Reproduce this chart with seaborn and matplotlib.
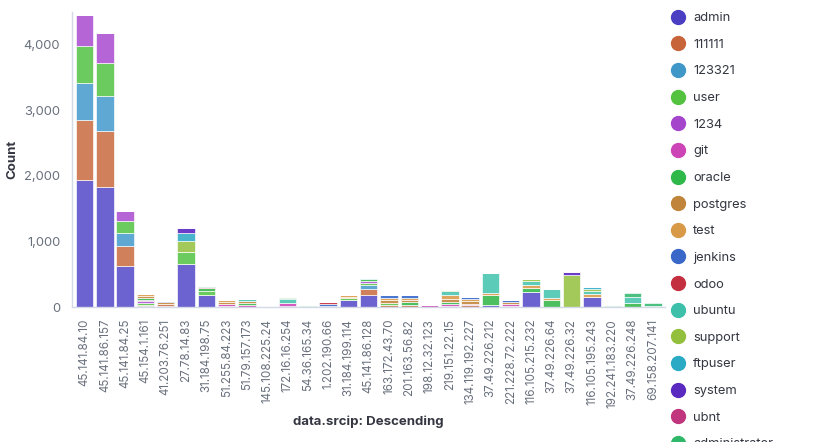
import matplotlib
matplotlib.use("Agg")
import matplotlib.pyplot as plt
import seaborn as sns
import numpy as np
import pandas as pd
from matplotlib.lines import Line2D
from matplotlib.ticker import FuncFormatter

# source IPs (x axis, descending by count)
srcips = ['45.141.84.10', '45.141.86.157', '45.141.84.25', '45.154.1.161', '41.203.76.251',
          '27.78.14.83', '31.184.198.75', '51.255.84.223', '51.79.157.173', '145.108.225.24',
          '172.16.16.254', '54.36.165.34', '1.202.190.66', '31.184.199.114', '45.141.86.128',
          '163.172.43.70', '201.163.56.82', '198.12.32.123', '219.151.22.15', '134.119.192.227',
          '37.49.226.212', '221.228.72.222', '116.105.215.232', '37.49.226.64', '37.49.226.32',
          '116.105.195.243', '192.241.183.220', '37.49.226.248', '69.158.207.141']

users = ['admin', '111111', '123321', 'user', '1234', 'git', 'oracle', 'postgres', 'test',
         'jenkins', 'odoo', 'ubuntu', 'support', 'ftpuser', 'system', 'ubnt', 'administrator']

bar_colors = ['#6c63d1', '#d0805a', '#5fa8d3', '#6ccb5f', '#b665d6', '#d35bc0', '#4cc060',
              '#c99250', '#dda55e', '#4a78d0', '#c94050', '#5ccbb8', '#a3c95a', '#48b5cc',
              '#6a3cc8', '#c84a8c', '#4cc080']
dot_colors = ['#4a3fc2', '#c8643a', '#3f97c8', '#52c23f', '#a545cc', '#cc44b6', '#2fb84a',
              '#c0853a', '#d99a48', '#3a68c8', '#c42f40', '#3cc0aa', '#93c03c', '#2aaac4',
              '#5a2ac0', '#c0357e', '#30b86a']

# counts per user, one value per source IP (same order as srcips)
admin         = [1940, 1830, 625, 15, 20, 655, 185, 0, 0, 0, 0, 0, 0, 110, 190, 0, 0, 0, 0, 0, 30, 0, 230, 0, 0, 160, 0, 0, 0]
c111111       = [915, 860, 305, 20, 20, 0, 0, 20, 0, 0, 0, 0, 15, 0, 90, 30, 30, 0, 20, 30, 0, 20, 0, 0, 0, 0, 0, 0, 0]
c123321       = [565, 530, 200, 0, 0, 0, 0, 0, 0, 0, 0, 0, 0, 0, 50, 0, 0, 0, 0, 0, 0, 0, 0, 0, 0, 0, 0, 0, 0]
user          = [565, 505, 185, 30, 0, 185, 60, 0, 0, 0, 0, 0, 0, 30, 40, 30, 0, 0, 0, 0, 0, 0, 0, 0, 0, 0, 0, 0, 0]
c1234         = [475, 455, 155, 20, 0, 0, 0, 0, 0, 0, 20, 0, 0, 0, 30, 0, 0, 0, 0, 0, 0, 0, 0, 0, 0, 0, 0, 0, 0]
git           = [0, 0, 0, 15, 10, 0, 0, 20, 25, 0, 35, 0, 0, 0, 0, 0, 0, 30, 30, 20, 0, 20, 0, 0, 0, 0, 0, 0, 0]
oracle        = [0, 0, 0, 40, 0, 0, 40, 0, 40, 0, 0, 0, 0, 0, 20, 0, 40, 0, 30, 0, 150, 0, 60, 100, 0, 0, 0, 60, 0]
postgres      = [0, 0, 0, 25, 20, 0, 0, 30, 20, 0, 0, 0, 0, 20, 0, 40, 30, 0, 40, 40, 0, 30, 0, 0, 0, 0, 0, 0, 0]
test          = [0, 0, 0, 35, 0, 0, 0, 40, 0, 0, 0, 0, 0, 30, 0, 40, 40, 0, 60, 30, 40, 0, 50, 30, 0, 40, 0, 0, 0]
jenkins       = [0, 0, 0, 0, 20, 0, 0, 0, 0, 0, 0, 0, 35, 0, 0, 40, 40, 0, 0, 40, 0, 30, 0, 0, 0, 0, 0, 0, 0]
odoo          = [0, 0, 0, 0, 0, 0, 20, 0, 0, 0, 0, 0, 20, 0, 0, 0, 0, 0, 0, 0, 0, 0, 0, 0, 0, 0, 0, 0, 0]
ubuntu        = [0, 0, 0, 0, 0, 0, 20, 0, 40, 0, 70, 0, 0, 0, 20, 0, 0, 0, 60, 0, 300, 0, 50, 140, 0, 40, 0, 100, 15]
support       = [0, 0, 0, 0, 0, 160, 0, 0, 0, 0, 0, 0, 0, 0, 0, 0, 0, 0, 20, 0, 0, 0, 30, 0, 490, 40, 0, 0, 0]
ftpuser       = [0, 0, 0, 0, 0, 125, 0, 0, 0, 0, 0, 0, 0, 0, 0, 0, 0, 0, 0, 0, 0, 0, 0, 0, 0, 30, 0, 0, 0]
system        = [0, 0, 0, 0, 0, 80, 0, 0, 0, 0, 0, 0, 0, 0, 0, 0, 0, 0, 0, 0, 0, 0, 0, 0, 50, 0, 0, 0, 0]
ubnt          = [0, 0, 0, 0, 0, 0, 0, 0, 0, 5, 0, 0, 0, 0, 0, 0, 0, 0, 0, 0, 0, 0, 0, 0, 0, 0, 0, 0, 0]
administrator = [0, 0, 0, 0, 0, 0, 0, 0, 0, 0, 15, 10, 0, 0, 0, 0, 0, 0, 0, 0, 0, 0, 0, 0, 0, 0, 10, 50, 40]

series = [admin, c111111, c123321, user, c1234, git, oracle, postgres, test,
          jenkins, odoo, ubuntu, support, ftpuser, system, ubnt, administrator]

rows = []
for ip_i, ip in enumerate(srcips):
    for u, vals in zip(users, series):
        rows.append({'srcip': ip, 'user': u, 'count': vals[ip_i]})
df = pd.DataFrame(rows)

sns.set_style('white')
plt.rcParams['font.family'] = ['Inter', 'DejaVu Sans']

fig = plt.figure(figsize=(8.17, 4.42), dpi=100)
ax = fig.add_axes([72 / 817, 1 - 307 / 442, (665 - 72) / 817, (307 - 12) / 442])

palette = dict(zip(users, bar_colors))
# seaborn stacks the first hue level on top, so reverse to get admin at the bottom
sns.histplot(data=df, x='srcip', hue='user', weights='count', multiple='stack',
             discrete=True, shrink=0.86, hue_order=users[::-1], palette=palette,
             alpha=1, edgecolor='white', linewidth=0.45, legend=False, ax=ax)

ax.set_xlim(-0.62, len(srcips) - 0.4)
ax.set_ylim(0, 4500)
ax.set_yticks([0, 1000, 2000, 3000, 4000])
ax.yaxis.set_major_formatter(FuncFormatter(lambda v, p: f'{int(v):,}'))
ax.set_xticks(range(len(srcips)))
ax.set_xticklabels(srcips, rotation=90)

for s in ['top', 'right']:
    ax.spines[s].set_visible(False)
for s in ['left', 'bottom']:
    ax.spines[s].set_color('#d3dae6')
    ax.spines[s].set_linewidth(1)
ax.tick_params(axis='both', colors='#d3dae6', labelcolor='#69707d', length=5, width=1)
ax.tick_params(axis='y', labelsize=9.3)
ax.tick_params(axis='x', labelsize=8.4)

ax.set_ylabel('Count', fontsize=9.5, fontweight='bold', color='#343741', labelpad=4)
ax.set_xlabel('data.srcip: Descending', fontsize=9.5, fontweight='bold', color='#343741', labelpad=6)

handles = [Line2D([0], [0], marker='o', linestyle='', markersize=10,
                  markerfacecolor=c, markeredgecolor=c) for c in dot_colors]
fig.legend(handles, users, loc='upper left', bbox_to_anchor=(660 / 817, 1 - 7 / 442),
           frameon=False, fontsize=9.3, labelspacing=1.13, handletextpad=0.15,
           labelcolor='#343741', borderaxespad=0)

fig.savefig('out.png', dpi=100)
